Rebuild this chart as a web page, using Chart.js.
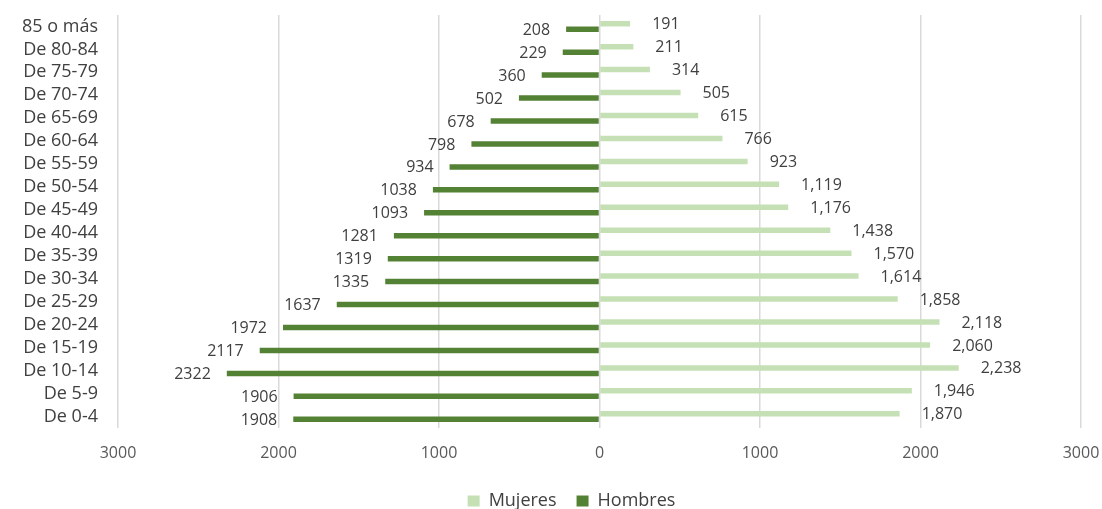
<!DOCTYPE html>
<html>
<head>
<meta charset="utf-8">
<script src="https://cdn.jsdelivr.net/npm/chart.js@4"></script>
<style>
  html, body { margin: 0; padding: 0; background: #fff; overflow: hidden; }
  #wrap { width: 1102px; height: 509px; }
  canvas { display: block; }
</style>
</head>
<body>
<div id="wrap"><canvas id="chart"></canvas></div>
<script>
  // age groups, top to bottom
  const ageGroups = ['85 o más', 'De 80-84', 'De 75-79', 'De 70-74', 'De 65-69', 'De 60-64',
    'De 55-59', 'De 50-54', 'De 45-49', 'De 40-44', 'De 35-39', 'De 30-34',
    'De 25-29', 'De 20-24', 'De 15-19', 'De 10-14', 'De 5-9', 'De 0-4'];
  const mujeres = [191, 211, 314, 505, 615, 766, 923, 1119, 1176, 1438, 1570, 1614, 1858, 2118, 2060, 2238, 1946, 1870];
  const hombres = [208, 229, 360, 502, 678, 798, 934, 1038, 1093, 1281, 1319, 1335, 1637, 1972, 2117, 2322, 1906, 1908];
  const xTicks = [-3000, -2000, -1000, 0, 1000, 2000, 3000];

  const fontFamily = '"Open Sans", sans-serif';

  // value labels next to the bar ends
  const barLabels = {
    id: 'barLabels',
    afterDatasetsDraw(chart) {
      const ctx = chart.ctx;
      ctx.save();
      ctx.font = '16px ' + fontFamily;
      ctx.fillStyle = '#404040';
      ctx.textBaseline = 'middle';
      chart.data.datasets.forEach((ds, i) => {
        const meta = chart.getDatasetMeta(i);
        meta.data.forEach((bar, j) => {
          const v = Math.abs(ds.data[j]);
          if (i === 0) {
            ctx.textAlign = 'left';
            ctx.fillText(v.toLocaleString('en-US'), bar.x + 22, bar.y + 1);
          } else {
            ctx.textAlign = 'right';
            ctx.fillText(String(v), bar.x - 16, bar.y + 1);
          }
        });
      });
      ctx.restore();
    }
  };

  // keep the legend low and a bit right of center, like the original
  const legendTweak = {
    id: 'legendTweak',
    afterInit(chart) {
      const lg = chart.legend;
      const fit = lg.fit;
      lg.fit = function() {
        fit.call(this);
        this.height = 37;
      };
    },
    afterLayout(chart) {
      chart.legend.left += 31;
      chart.legend.right += 31;
    }
  };

  new Chart(document.getElementById('chart'), {
    type: 'bar',
    data: {
      labels: ageGroups,
      datasets: [
        {
          label: 'Mujeres',
          data: mujeres,
          backgroundColor: '#c5e0b4',
          categoryPercentage: 0.48,
          barPercentage: 1
        },
        {
          label: 'Hombres',
          data: hombres.map(v => -v),
          backgroundColor: '#548235',
          categoryPercentage: 0.48,
          barPercentage: 1
        }
      ]
    },
    options: {
      indexAxis: 'y',
      responsive: true,
      maintainAspectRatio: false,
      animation: false,
      layout: { padding: { top: 15, right: 21, left: 0, bottom: 0 } },
      scales: {
        x: {
          min: -3000,
          max: 3000,
          afterBuildTicks(scale) {
            scale.ticks = xTicks.map(v => ({ value: v }));
          },
          afterFit(scale) {
            scale.height = 44;
            scale.paddingLeft = 0;
            scale.paddingRight = 0;
          },
          grid: { color: '#d9d9d9', lineWidth: 1.5, drawTicks: false },
          border: { display: false },
          ticks: {
            padding: 16,
            color: '#595959',
            font: { family: fontFamily, size: 16 },
            callback: v => Math.abs(v)
          }
        },
        y: {
          afterFit(scale) {
            scale.width = 118;
            scale.paddingTop = 0;
            scale.paddingBottom = 0;
          },
          grid: { display: false, drawTicks: false },
          border: { display: false },
          ticks: {
            padding: 20,
            color: '#404040',
            font: { family: fontFamily, size: 18 },
            autoSkip: false
          }
        }
      },
      plugins: {
        legend: {
          position: 'bottom',
          labels: {
            boxWidth: 12,
            boxHeight: 11,
            padding: 20,
            color: '#404040',
            font: { family: fontFamily, size: 18 }
          }
        },
        tooltip: { enabled: false }
      }
    },
    plugins: [barLabels, legendTweak]
  });
</script>
</body>
</html>
